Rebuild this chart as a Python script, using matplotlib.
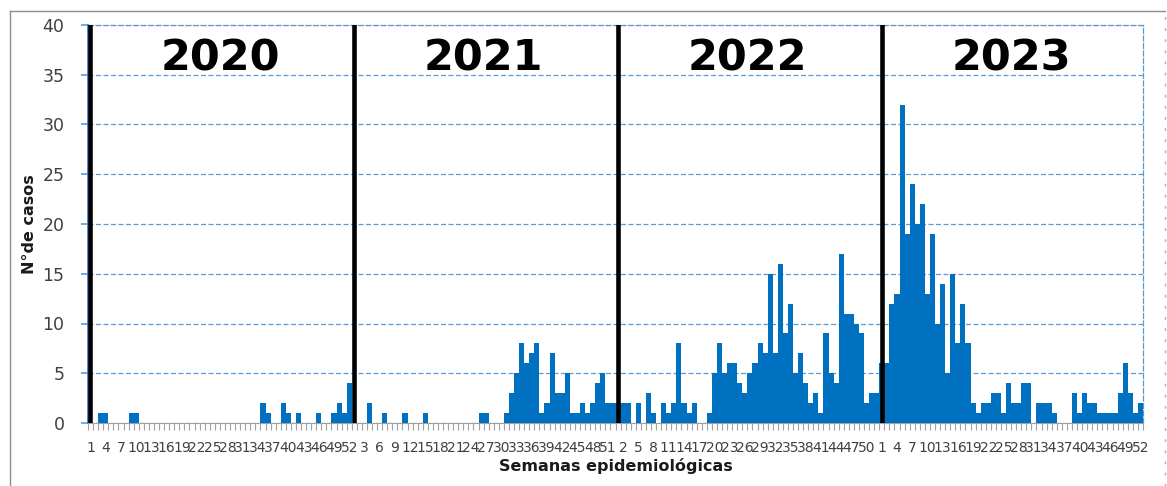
import numpy as np
import matplotlib
matplotlib.use("Agg")
import matplotlib.pyplot as plt
from matplotlib.lines import Line2D

# ----------------- data -----------------
years = ["2020", "2021", "2022", "2023"]
weeks_per_year = [52, 52, 52, 52]

cases_2020 = [0, 0, 1, 1, 0, 0, 0, 0, 1, 1, 0, 0, 0, 0, 0, 0, 0, 0, 0, 0,
              0, 0, 0, 0, 0, 0, 0, 0, 0, 0, 0, 0, 0, 0, 2, 1, 0, 0, 2, 1,
              0, 1, 0, 0, 0, 1, 0, 0, 1, 2, 1, 4]
cases_2021 = [0, 0, 0, 2, 0, 0, 1, 0, 0, 0, 1, 0, 0, 0, 1, 0, 0, 0, 0, 0,
              0, 0, 0, 0, 0, 1, 1, 0, 0, 0, 1, 3, 5, 8, 6, 7, 8, 1, 2, 7,
              3, 3, 5, 1, 1, 2, 1, 2, 4, 5, 2, 2]
cases_2022 = [2, 2, 2, 0, 2, 0, 3, 1, 0, 2, 1, 2, 8, 2, 1, 2, 0, 0, 1, 5,
              8, 5, 6, 6, 4, 3, 5, 6, 8, 7, 15, 7, 16, 9, 12, 5, 7, 4, 2, 3,
              1, 9, 5, 4, 17, 11, 11, 10, 9, 2, 3, 3]
cases_2023 = [6, 6, 12, 13, 32, 19, 24, 20, 22, 13, 19, 10, 14, 5, 15, 8, 12, 8, 2, 1,
              2, 2, 3, 3, 1, 4, 2, 2, 4, 4, 0, 2, 2, 2, 1, 0, 0, 0, 3, 1,
              3, 2, 2, 1, 1, 1, 1, 3, 6, 3, 1, 2]
# ----------------------------------------

cases = np.array(cases_2020 + cases_2021 + cases_2022 + cases_2023)
week_no = np.concatenate([np.arange(1, n + 1) for n in weeks_per_year])
x = np.arange(len(cases))
starts = np.concatenate([[0], np.cumsum(weeks_per_year)[:-1]])

BAR = "#0070c0"
GRID = "#5b9bd5"
TXT = "#404040"

fig = plt.figure(figsize=(11.67, 4.86), dpi=100)
ax = fig.add_axes([88 / 1167, 1 - 423 / 486, (1143 - 88) / 1167, (423 - 25) / 486])

ax.bar(x, cases, width=1.0, color=BAR, linewidth=0, zorder=3)

ax.set_xlim(-0.5, len(cases) - 0.5)
ax.set_ylim(0, 40)
ax.set_yticks(np.arange(0, 41, 5))
ax.yaxis.grid(True, color=GRID, linestyle=(0, (4, 2)), linewidth=0.9)
ax.set_axisbelow(True)

# tick labels every 3 weeks, minor ticks at every bar boundary
lab_idx = x[::3]
ax.set_xticks(lab_idx)
ax.set_xticklabels([str(w) for w in week_no[lab_idx]], fontsize=10, color=TXT)
ax.set_xticks(np.arange(-0.5, len(cases), 1.0), minor=True)
ax.tick_params(axis="x", which="major", length=0, pad=13)
ax.tick_params(axis="x", which="minor", length=5, color="#a0a0a0", width=0.8)
ax.tick_params(axis="y", length=5, color=GRID, width=1.2, labelsize=12.5, labelcolor=TXT, pad=12)

for s in ["top", "right"]:
    ax.spines[s].set_color(GRID)
    ax.spines[s].set_linestyle((0, (4, 2)))
    ax.spines[s].set_linewidth(0.9)
ax.spines["left"].set_color("#2e75d6")
ax.spines["left"].set_linewidth(1.2)
ax.spines["bottom"].set_color("#a0a0a0")

ax.set_ylabel("N°de casos", fontsize=11.5, fontweight="bold", color="#1a1a1a", labelpad=4)
ax.set_xlabel("Semanas epidemiológicas", fontsize=11.5, fontweight="bold", color="#1a1a1a", labelpad=2)

# year separators and labels
for st, n, yr in zip(starts, weeks_per_year, years):
    ax.axvline(st - 0.05, color="black", linewidth=3.3, zorder=4)
    ax.text(st - 0.5 + n / 2, 36.6, yr, ha="center", va="center",
            fontsize=31, fontweight="bold", color="black", zorder=5)

# outer chart border
fig.add_artist(Line2D([10 / 1167, 10 / 1167], [0, 1 - 11 / 486], transform=fig.transFigure,
                      color="#8c8c8c", linewidth=1))
fig.add_artist(Line2D([10 / 1167, 1165 / 1167], [1 - 11 / 486, 1 - 11 / 486], transform=fig.transFigure,
                      color="#8c8c8c", linewidth=1))
fig.add_artist(Line2D([1165 / 1167, 1165 / 1167], [0, 1 - 11 / 486], transform=fig.transFigure,
                      color="#b0b0b0", linewidth=1, linestyle=(0, (2, 6))))

fig.savefig("out.png", dpi=100)
